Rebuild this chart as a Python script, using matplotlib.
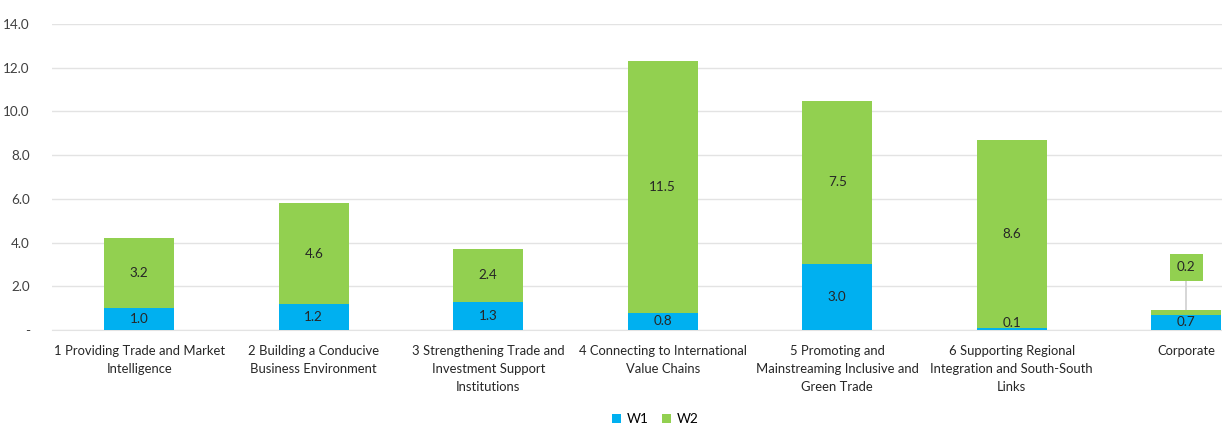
import matplotlib
matplotlib.use("Agg")
import matplotlib.pyplot as plt
import numpy as np

categories = [
    "1 Providing Trade and Market\nIntelligence",
    "2 Building a Conducive\nBusiness Environment",
    "3 Strengthening Trade and\nInvestment Support\nInstitutions",
    "4 Connecting to International\nValue Chains",
    "5 Promoting and\nMainstreaming Inclusive and\nGreen Trade",
    "6 Supporting Regional\nIntegration and South-South\nLinks",
    "Corporate",
]
w1 = [1.0, 1.2, 1.3, 0.8, 3.0, 0.1, 0.7]
w2 = [3.2, 4.6, 2.4, 11.5, 7.5, 8.6, 0.2]
yticks = [0, 2, 4, 6, 8, 10, 12, 14]
ytick_labels = ["-", "2.0", "4.0", "6.0", "8.0", "10.0", "12.0", "14.0"]

plt.rcParams['font.family'] = ['Lato', 'DejaVu Sans']

W, H = 1222, 423
fig = plt.figure(figsize=(W / 100, H / 100), dpi=100)
ax = fig.add_axes([52 / W, 1 - 330 / H, 1 - 52 / W, (330 - 24) / H])

c1 = "#00B0F0"
c2 = "#92D050"
fs = 9.4
x = np.arange(len(categories))
bw = 0.4
b1 = ax.bar(x, w1, bw, color=c1, label="W1", zorder=3)
b2 = ax.bar(x, w2, bw, bottom=w1, color=c2, label="W2", zorder=3)

for i in range(len(categories)):
    ax.text(x[i], max(w1[i] / 2, 0.3), f"{w1[i]:.1f}", ha="center", va="center",
            fontsize=fs + 0.3, color="#262626", zorder=4)
    if i < len(categories) - 1:
        ax.text(x[i], w1[i] + w2[i] / 2, f"{w2[i]:.1f}", ha="center", va="center",
                fontsize=fs + 0.3, color="#262626", zorder=4)
    else:
        ly = 2.86
        top = w1[i] + w2[i]
        ax.plot([x[i], x[i]], [top, ly - 0.55], color="#D0D0D0", lw=1.2, zorder=2)
        ax.text(x[i], ly, f"{w2[i]:.1f}", ha="center", va="center",
                fontsize=fs + 0.3, color="#262626", zorder=4,
                bbox=dict(boxstyle="square,pad=0.55", fc=c2, ec="none"))

ax.set_xlim(-0.5, 6.205)
ax.set_ylim(0, 14)
ax.set_yticks(yticks)
ax.set_yticklabels(ytick_labels, fontsize=fs + 0.3, color="#404040")
ax.set_xticks(x)
ax.set_xticklabels(categories, fontsize=fs, color="#262626", linespacing=1.6)
ax.tick_params(axis="both", length=0)
ax.tick_params(axis="y", pad=16)
ax.tick_params(axis="x", pad=11)
ax.grid(axis="y", color="#E3E3E3", lw=1, zorder=0)
for s in ["top", "right", "left"]:
    ax.spines[s].set_visible(False)
ax.spines["bottom"].set_color("#E3E3E3")

fig.legend(handles=[b1, b2], labels=["W1", "W2"], loc="center",
           bbox_to_anchor=(655 / W, 1 - 419 / H), ncol=2, frameon=False,
           fontsize=fs + 0.3, handlelength=0.7, handleheight=0.7, columnspacing=1.0,
           handletextpad=0.4)

fig.savefig("out.png", dpi=100)
